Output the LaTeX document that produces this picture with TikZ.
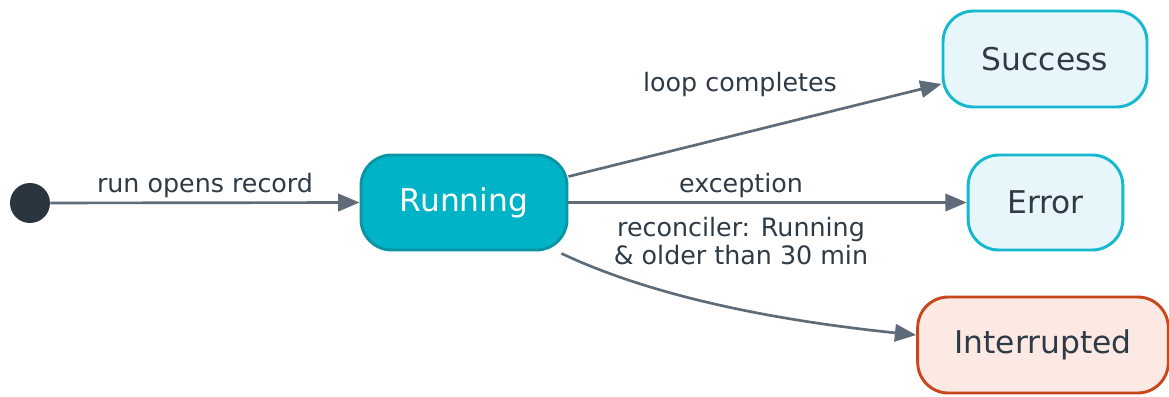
\documentclass[tikz,border=0pt]{standalone}
\usepackage{fontspec}
\setmainfont{DejaVu Sans}
\usetikzlibrary{arrows.meta,calc}

\definecolor{inkdark}{HTML}{2B3540}
\definecolor{textdark}{HTML}{2E3A45}
\definecolor{edgegrey}{HTML}{5E6B78}
\definecolor{runfill}{HTML}{00B3C7}
\definecolor{rundraw}{HTML}{0A95A6}
\definecolor{donefill}{HTML}{E7F6FA}
\definecolor{donedraw}{HTML}{14B8CF}
\definecolor{intfill}{HTML}{FDE9E3}
\definecolor{intdraw}{HTML}{C8471B}

\tikzset{
  statebox/.style={rectangle, rounded corners=23pt, line width=2.2pt,
    font=\fontsize{23.5}{28}\selectfont, text=textdark, inner sep=0pt},
  runbox/.style={statebox, fill=runfill, draw=rundraw, text=white},
  donebox/.style={statebox, fill=donefill, draw=donedraw},
  intbox/.style={statebox, fill=intfill, draw=intdraw},
  startdot/.style={circle, fill=inkdark, minimum size=30pt, inner sep=0pt},
  trans/.style={draw=edgegrey, line width=2pt,
    -{Triangle[length=16pt,width=13pt]}},
  tlabel/.style={font=\fontsize{19}{21}\selectfont, text=textdark, align=center}
}

\begin{document}
\begin{tikzpicture}[x=0.75pt,y=-0.75pt]
  \useasboundingbox (0,0) rectangle (1169,396);

  % states
  \node[startdot] (start) at (30,203) {};
  \node[runbox, minimum width=154.5pt, minimum height=71.25pt] (run) at (464,202.5) {Running};
  \node[donebox, minimum width=153pt, minimum height=72pt] (ok) at (1045,59) {Success};
  \node[donebox, minimum width=116pt, minimum height=71.25pt] (err) at (1045.5,202.5) {Error};
  \node[intbox, minimum width=188pt, minimum height=72pt] (intr) at (1043,345) {Interrupted};

  % transitions
  \draw[trans] (start) -- (run.west);
  \node[tlabel] (lstart) at (205,186) {run opens record};

  \draw[trans] ($(run.east)+(0,-26)$) -- ($(ok.west)+(0,25)$);
  \node[tlabel] (lok) at (740,85) {loop completes};

  \draw[trans] (run.east) -- (err.west);
  \node[tlabel] (lerr) at (741,186) {exception};

  \draw[trans] ($(run.south east)+(-7,2)$) .. controls (660,300) and (790,322) .. ($(intr.west)+(0,-10)$);
  \node[tlabel] (lint) at (741,241) {reconciler: Running\\\& older than 30 min};
\end{tikzpicture}
\end{document}
